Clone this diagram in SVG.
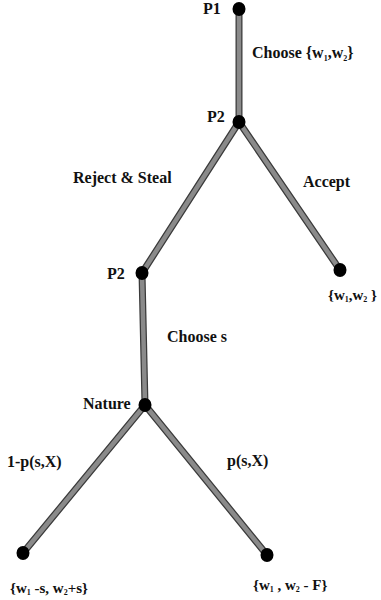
<svg xmlns="http://www.w3.org/2000/svg" width="381" height="600" viewBox="0 0 381 600">
<style>
.o{stroke:#3a3a3a;stroke-width:7;stroke-linecap:butt;fill:none}
.i{stroke:#8a8a8a;stroke-width:4.5;stroke-linecap:butt;fill:none}
.n{fill:#000}
text{font-family:"Liberation Serif","Times New Roman",serif;font-weight:bold;font-size:16px;fill:#111}
.s{font-size:8px}
.m{font-size:15px}
</style>
<rect width="381" height="600" fill="#fff"/>
<g id="connectors">
<path class="o" d="M239,10 L239,122 M239,122 L142,273 M239,122 L340,270 M142,273 L145,405 M145,405 L23,553 M145,405 L267,555"/>
<path class="i" d="M239,10 L239,122 M239,122 L142,273 M239,122 L340,270 M142,273 L145,405 M145,405 L23,553 M145,405 L267,555"/>
</g>
<g id="p1"><ellipse class="n" cx="239" cy="9" rx="6.5" ry="7"/><text x="203" y="14">P1</text></g>
<g id="choose-w"><text x="252" y="58">Choose {w<tspan class="s" dy="3">1</tspan><tspan dy="-3">,w</tspan><tspan class="s" dy="3">2</tspan><tspan dy="-3">}</tspan></text></g>
<g id="p2"><ellipse class="n" cx="239" cy="122" rx="6.5" ry="7"/><text x="207" y="122">P2</text></g>
<g id="reject"><text x="73" y="183">Reject &amp; Steal</text></g>
<g id="accept"><text x="303" y="187">Accept</text></g>
<g id="leaf-accept"><ellipse class="n" cx="340" cy="270" rx="6.5" ry="7"/><text class="m" x="328" y="300" font-size="14">{w<tspan class="s" dy="2">1</tspan><tspan dy="-2">,w</tspan><tspan class="s" dy="2">2</tspan><tspan dy="-2"> }</tspan></text></g>
<g id="p2b"><ellipse class="n" cx="142" cy="273" rx="6.5" ry="7"/><text x="107" y="279">P2</text></g>
<g id="choose-s"><text x="167" y="342">Choose s</text></g>
<g id="nature"><ellipse class="n" cx="145" cy="405" rx="6.5" ry="7"/><text x="83" y="409">Nature</text></g>
<g id="lbl-left"><text x="7" y="467">1-p(s,X)</text></g>
<g id="lbl-right"><text x="227" y="466">p(s,X)</text></g>
<g id="leaf-left"><ellipse class="n" cx="23" cy="553" rx="6.5" ry="7"/><text class="m" x="10" y="593">{w<tspan class="s" dy="2">1</tspan><tspan dy="-2"> -s, w</tspan><tspan class="s" dy="2">2</tspan><tspan dy="-2">+s}</tspan></text></g>
<g id="leaf-right"><ellipse class="n" cx="267" cy="555" rx="6.5" ry="7"/><text class="m" x="253" y="590">{w<tspan class="s" dy="2">1</tspan><tspan dy="-2"> , w</tspan><tspan class="s" dy="2">2</tspan><tspan dy="-2"> - F}</tspan></text></g>
</svg>
